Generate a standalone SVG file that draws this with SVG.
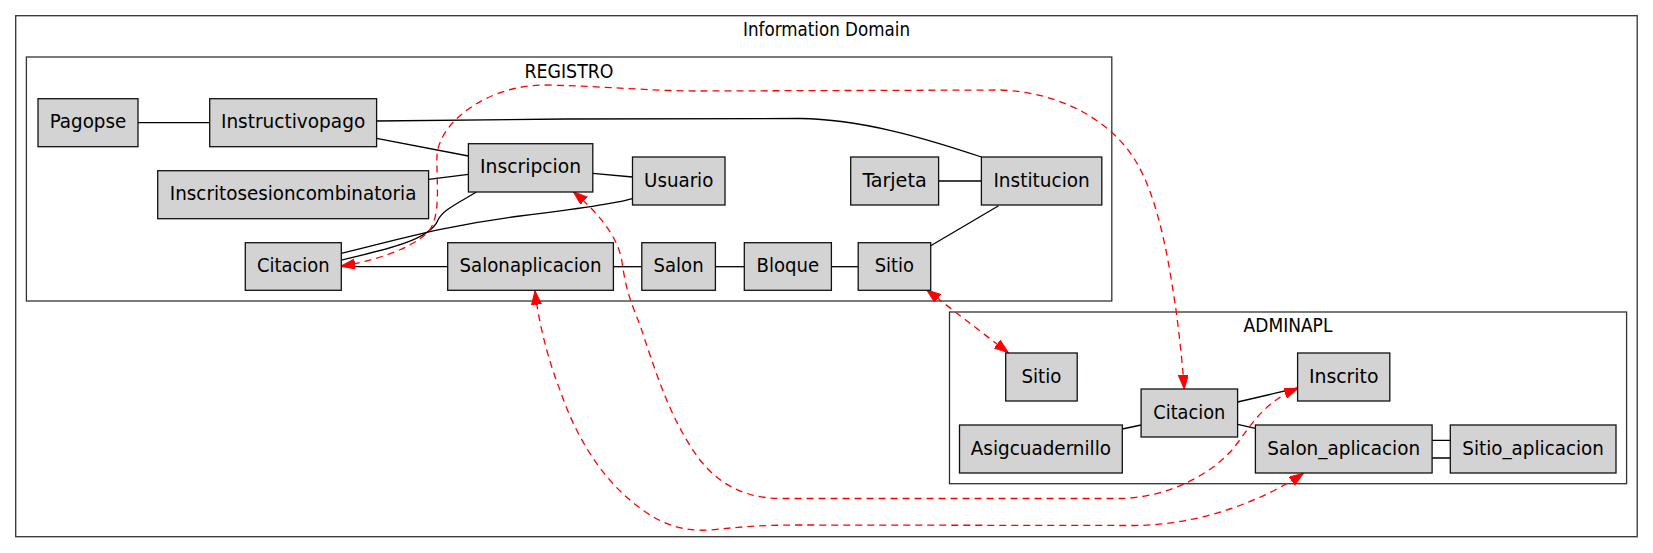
<svg xmlns="http://www.w3.org/2000/svg" width="1653" height="553" viewBox="0 0 1653 553">
<style>
.cl{fill:#fff;stroke:#333;stroke-width:1.3}
.nd rect{fill:#d3d3d3;stroke:#111;stroke-width:1.3}
text{font-family:"DejaVu Sans Condensed","DejaVu Sans",sans-serif;font-stretch:condensed;font-size:20px;fill:#000;text-anchor:middle}
.ct{font-size:19px}
.e{fill:none;stroke:#000;stroke-width:1.3}
.r{fill:none;stroke:#f00;stroke-width:1.3;stroke-dasharray:7,5;marker-start:url(#ah);marker-end:url(#ah)}
</style>
<defs>
<marker id="ah" markerUnits="userSpaceOnUse" markerWidth="15" markerHeight="11" refX="14" refY="5" orient="auto-start-reverse" viewBox="0 0 15 11">
<path d="M0,0 L14,5 L0,10 Z" fill="#f00" stroke="#f00" stroke-width="1"/>
</marker>
</defs>
<rect width="1653" height="553" fill="#fff"/>
<g id="cluster_domain">
<rect class="cl" x="15.7" y="15.7" width="1621.5" height="521"/>
<text class="ct" x="826.5" y="35.5" textLength="167" lengthAdjust="spacingAndGlyphs">Information Domain</text>
</g>
<g id="cluster_registro">
<rect class="cl" x="26.4" y="57" width="1085.4" height="244"/>
<text class="ct" x="569" y="77.5" textLength="89" lengthAdjust="spacingAndGlyphs">REGISTRO</text>
</g>
<g id="cluster_adminapl">
<rect class="cl" x="949.5" y="312" width="677.1" height="171.7"/>
<text class="ct" x="1288" y="331.5" textLength="88.8" lengthAdjust="spacingAndGlyphs">ADMINAPL</text>
</g>
<g id="edges">
<path class="e" d="M138,122.7 L209.7,122.7"/>
<path class="e" d="M376.6,121 C500,119 700,118 800,118.5 C860,119 925,138 981.4,157"/>
<path class="e" d="M376.6,138.3 L468.4,156"/>
<path class="e" d="M428.6,179.3 L468.4,174.3"/>
<path class="e" d="M592.8,173.3 L632.5,177"/>
<path class="e" d="M476.4,192 C455,205 443,210 438,220 C430,240 385,250 341.3,260"/>
<path class="e" d="M632.5,198.7 C610,205 570,210 520,216 C440,226 390,242 341.3,253.3"/>
<path class="e" d="M447.7,266.7 L341.3,266.7"/>
<path class="e" d="M613.4,266.7 L641.8,266.7"/>
<path class="e" d="M715.4,266.7 L744.3,266.7"/>
<path class="e" d="M831.4,266.7 L858.2,266.7"/>
<path class="e" d="M930.7,245.7 L998.6,205.7"/>
<path class="e" d="M938.6,181 L981.4,181"/>
<path class="e" d="M1122.3,429 L1141.1,425"/>
<path class="e" d="M1237.6,402 L1297.6,388"/>
<path class="e" d="M1237.6,424.3 L1255.4,428.3"/>
<path class="e" d="M1432.1,440.3 L1450.3,440.3 M1432.1,458 L1450.3,458"/>
<path class="r" d="M341,266 C370,262 410,250 428,232 C442,216 436,180 437,155 C440,120 490,85 545,85 C600,86 650,91 700,91 L1000,90 C1060,92 1110,120 1135,160 C1160,200 1170,270 1176,310 C1180,340 1183,370 1184.3,389"/>
<path class="r" d="M573.3,191.7 C595,210 618,235 622,262 C626,290 630,300 640,325 C655,370 670,420 700,460 C720,485 745,498 780,498.5 L1120,498.5 C1160,498 1205,480 1232,450 C1250,428 1262,402 1298.3,388.3"/>
<path class="r" d="M535,290.7 C538,320 548,360 560,390 C575,435 600,475 630,500 C655,522 680,532 710,530 C740,527 760,525 800,525 L1135,525.5 C1190,525 1240,508 1275,490 C1290,482 1298,477 1303.4,473.3"/>
<path class="r" d="M926.7,290 L1008.3,352.7"/>
</g>
<g id="reg_pagopse" class="nd"><rect x="38" y="98.7" width="100" height="48"/><text x="88" y="128" textLength="76.5" lengthAdjust="spacingAndGlyphs">Pagopse</text></g>
<g id="reg_instructivopago" class="nd"><rect x="209.7" y="98.7" width="166.9" height="48"/><text x="293.1" y="128" textLength="144.3" lengthAdjust="spacingAndGlyphs">Instructivopago</text></g>
<g id="reg_inscripcion" class="nd"><rect x="468.4" y="143.7" width="124.4" height="48.3"/><text x="530.6" y="173.2" textLength="101" lengthAdjust="spacingAndGlyphs">Inscripcion</text></g>
<g id="reg_inscritosesioncombinatoria" class="nd"><rect x="157.7" y="170.7" width="270.9" height="48"/><text x="293.1" y="200.2" textLength="246.5" lengthAdjust="spacingAndGlyphs">Inscritosesioncombinatoria</text></g>
<g id="reg_citacion" class="nd"><rect x="245.3" y="242.7" width="96" height="47.6"/><text x="293.3" y="272.2" textLength="72.7" lengthAdjust="spacingAndGlyphs">Citacion</text></g>
<g id="reg_salonaplicacion" class="nd"><rect x="447.7" y="242.7" width="165.7" height="47.6"/><text x="530.5" y="272.2" textLength="142" lengthAdjust="spacingAndGlyphs">Salonaplicacion</text></g>
<g id="reg_usuario" class="nd"><rect x="632.5" y="157" width="92.5" height="48"/><text x="678.7" y="186.5" textLength="69.3" lengthAdjust="spacingAndGlyphs">Usuario</text></g>
<g id="reg_tarjeta" class="nd"><rect x="850.7" y="157" width="87.9" height="48"/><text x="894.6" y="186.5" textLength="64.3" lengthAdjust="spacingAndGlyphs">Tarjeta</text></g>
<g id="reg_institucion" class="nd"><rect x="981.4" y="157" width="120.4" height="48"/><text x="1041.6" y="186.5" textLength="96.4" lengthAdjust="spacingAndGlyphs">Institucion</text></g>
<g id="reg_salon" class="nd"><rect x="641.8" y="242.7" width="73.6" height="47.6"/><text x="678.6" y="272.2" textLength="50" lengthAdjust="spacingAndGlyphs">Salon</text></g>
<g id="reg_bloque" class="nd"><rect x="744.3" y="242.7" width="87.1" height="47.6"/><text x="787.8" y="272.2" textLength="62.5" lengthAdjust="spacingAndGlyphs">Bloque</text></g>
<g id="reg_sitio" class="nd"><rect x="858.2" y="242.7" width="72.5" height="47.6"/><text x="894.4" y="272.2" textLength="39.3" lengthAdjust="spacingAndGlyphs">Sitio</text></g>
<g id="adm_sitio" class="nd"><rect x="1005.7" y="353" width="71.5" height="48"/><text x="1041.4" y="382.5" textLength="39.9" lengthAdjust="spacingAndGlyphs">Sitio</text></g>
<g id="adm_inscrito" class="nd"><rect x="1297.6" y="353" width="92.2" height="48"/><text x="1343.7" y="382.5" textLength="69.6" lengthAdjust="spacingAndGlyphs">Inscrito</text></g>
<g id="adm_citacion" class="nd"><rect x="1141.1" y="389" width="96.5" height="48"/><text x="1189.3" y="418.5" textLength="72" lengthAdjust="spacingAndGlyphs">Citacion</text></g>
<g id="adm_asigcuadernillo" class="nd"><rect x="959.5" y="425" width="162.8" height="48"/><text x="1040.9" y="454.5" textLength="140.2" lengthAdjust="spacingAndGlyphs">Asigcuadernillo</text></g>
<g id="adm_salon_aplicacion" class="nd"><rect x="1255.4" y="425" width="176.7" height="48"/><text x="1343.7" y="454.5" textLength="152.7" lengthAdjust="spacingAndGlyphs">Salon_aplicacion</text></g>
<g id="adm_sitio_aplicacion" class="nd"><rect x="1450.3" y="425" width="165.7" height="48"/><text x="1533.1" y="454.5" textLength="141.6" lengthAdjust="spacingAndGlyphs">Sitio_aplicacion</text></g>
</svg>
